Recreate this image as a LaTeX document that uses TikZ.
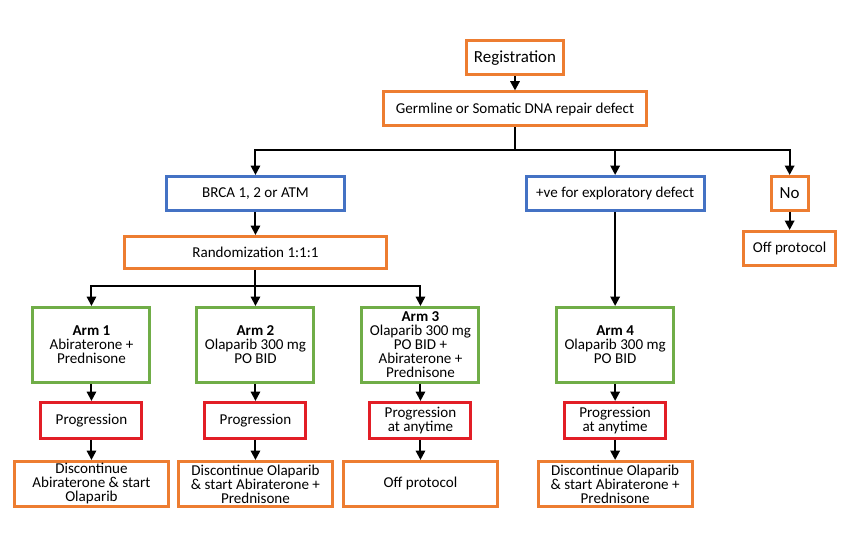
\documentclass[tikz,border=0pt]{standalone}
\usepackage{fontspec}
\setmainfont{Carlito}
\usepackage{tikz}
\usetikzlibrary{arrows.meta, positioning, calc}
\definecolor{boxorange}{RGB}{237,125,49}
\definecolor{boxblue}{RGB}{68,114,196}
\definecolor{boxgreen}{RGB}{112,173,71}
\definecolor{boxred}{RGB}{226,30,38}

\begin{document}
\begin{tikzpicture}[
  stage/.style={rectangle, draw=boxorange, line width=2.25pt, fill=white, align=center, minimum height=25.5pt, inner sep=1pt, font=\fontsize{11.3}{10.5}\selectfont},
  cohort/.style={stage, draw=boxblue, minimum width=133.5pt},
  armbox/.style={stage, draw=boxgreen, minimum width=87.75pt, minimum height=56.25pt},
  prog/.style={stage, draw=boxred, minimum width=75.75pt, minimum height=27pt},
  outcome/.style={stage, minimum width=115.5pt, minimum height=33.75pt},
  arr/.style={-{Triangle[length=7pt,width=7pt]}, line width=1.5pt},
  link/.style={line width=1.5pt}
]
\useasboundingbox (0,0) rectangle (636pt,-417pt);
% screening
\node[stage, minimum width=72.75pt, font=\fontsize{12.7}{14}\selectfont] (reg) at (386.25pt,-43.5pt) {Registration};
\node[stage, minimum width=197.75pt, below=10.5pt of reg] (germ) {Germline or Somatic DNA repair defect};
\node[cohort] (brca) at (191.6pt,-145.1pt) {BRCA 1, 2 or ATM};
\node[cohort, right=134pt of brca] (explo) {+ve for exploratory defect};
\node[stage, minimum width=27.75pt, font=\fontsize{12.7}{14}\selectfont, right=48pt of explo] (no) {No};
\node[stage, minimum width=69pt, below=13.5pt of no] (offno) {Off protocol};
\node[stage, minimum width=196.5pt, minimum height=24pt, below=17.25pt of brca] (rand) {Randomization 1:1:1};
% arms
\node[armbox, below=27pt of rand] (arm2) {\textbf{Arm 2}\\Olaparib 300 mg\\PO BID};
\node[armbox, left=33pt of arm2] (arm1) {\textbf{Arm 1}\\Abiraterone +\\Prednisone};
\node[armbox, right=33.75pt of arm2] (arm3) {\textbf{Arm 3}\\Olaparib 300 mg\\PO BID +\\Abiraterone +\\Prednisone};
\node[armbox, below=70.5pt of explo] (arm4) {\textbf{Arm 4}\\Olaparib 300 mg\\PO BID};
% progression
\node[prog, below=12.75pt of arm1] (prog1) {Progression};
\node[prog, below=12.75pt of arm2] (prog2) {Progression};
\node[prog, below=12.75pt of arm3] (prog3) {Progression\\at anytime};
\node[prog, below=12.75pt of arm4] (prog4) {Progression\\at anytime};
% outcomes
\node[outcome, below=15pt of prog1] (out1) {Discontinue\\Abiraterone \& start\\Olaparib};
\node[outcome, below=15pt of prog2] (out2) {Discontinue Olaparib\\\& start Abiraterone +\\Prednisone};
\node[outcome, below=15pt of prog3] (out3) {Off protocol};
\node[outcome, below=15pt of prog4] (out4) {Discontinue Olaparib\\\& start Abiraterone +\\Prednisone};
% connectors
\coordinate[below=16.5pt of germ] (hub1);
\coordinate[below=12pt of rand] (hub2);
\draw[arr] (reg) -- (germ);
\draw[link] (germ) -- (hub1);
\draw[arr] (hub1) -| (brca);
\draw[arr] (hub1) -| (explo);
\draw[arr] (hub1) -| (no);
\draw[arr] (no) -- (offno);
\draw[arr] (brca) -- (rand);
\draw[link] (rand) -- (hub2);
\draw[arr] (hub2) -| (arm1);
\draw[arr] (hub2) -- (arm2);
\draw[arr] (hub2) -| (arm3);
\draw[arr] (explo) -- (arm4);
\foreach \i in {1,2,3,4} {
  \draw[arr] (arm\i) -- (prog\i);
  \draw[arr] (prog\i) -- (out\i);
}
\end{tikzpicture}
\end{document}
